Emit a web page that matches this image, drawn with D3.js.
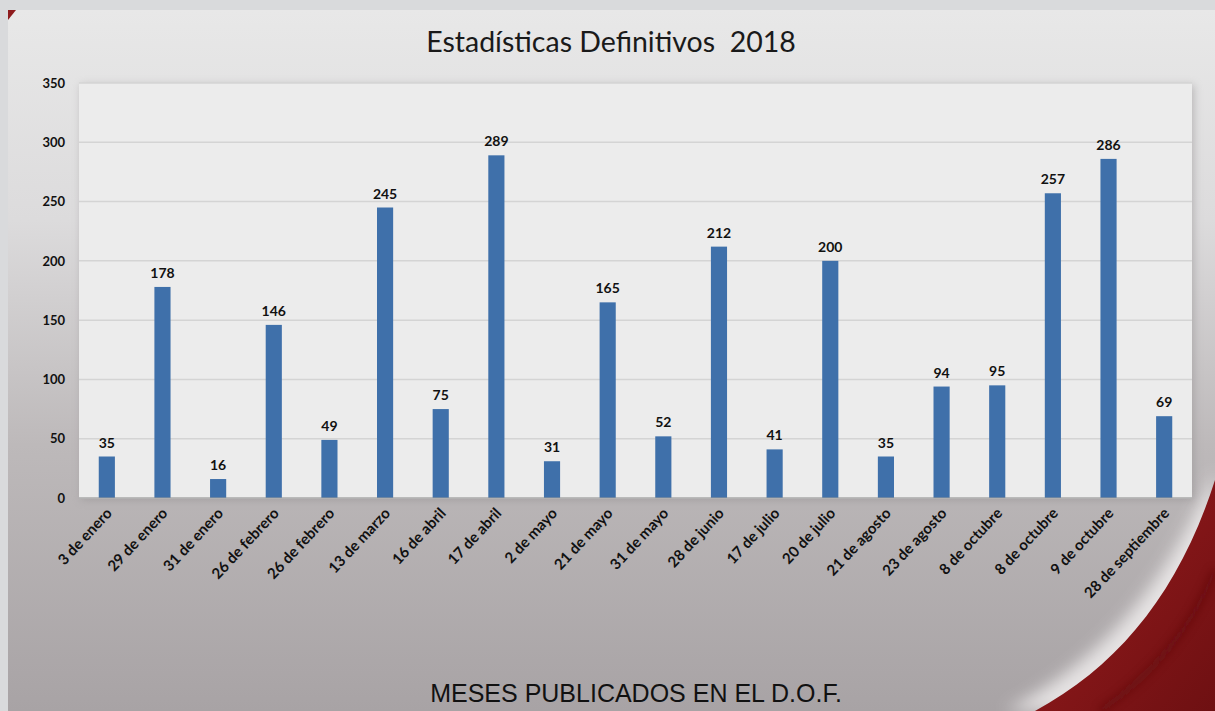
<!DOCTYPE html>
<html>
<head>
<meta charset="utf-8">
<script src="https://cdn.jsdelivr.net/npm/d3@7"></script>
<style>
  body { margin: 0; background: #d9dadc; }
  svg { display: block; }
</style>
</head>
<body>
<script>
const fechas = ["3 de enero","29 de enero","31 de enero","26 de febrero","26 de febrero","13 de marzo","16 de abril","17 de abril","2 de mayo","21 de mayo","31 de mayo","28 de junio","17 de julio","20 de julio","21 de agosto","23 de agosto","8 de octubre","8 de octubre","9 de octubre","28 de septiembre"];
const valores = [35,178,16,146,49,245,75,289,31,165,52,212,41,200,35,94,95,257,286,69];
const yTicks = [0,50,100,150,200,250,300,350];

const width = 1215, height = 711;
const plot = {left: 79, right: 1192, top: 83, bottom: 498};

const svg = d3.select('body').append('svg')
  .attr('width', width)
  .attr('height', height);

const defs = svg.append('defs');
const bg = defs.append('linearGradient').attr('id','bg').attr('x1',0).attr('y1',0).attr('x2',0).attr('y2',1);
bg.append('stop').attr('offset','0%').attr('stop-color','#e8e8e8');
bg.append('stop').attr('offset','30%').attr('stop-color','#dcdbdc');
bg.append('stop').attr('offset','62%').attr('stop-color','#bdb9ba');
bg.append('stop').attr('offset','100%').attr('stop-color','#a8a3a5');

const red = defs.append('linearGradient').attr('id','red').attr('x1',0).attr('y1',0).attr('x2',1).attr('y2',1);
red.append('stop').attr('offset','0%').attr('stop-color','#9a1c1e');
red.append('stop').attr('offset','100%').attr('stop-color','#6e1012');

const blur = defs.append('filter').attr('id','blur');
blur.append('feGaussianBlur').attr('stdDeviation', 4);
const blur2 = defs.append('filter').attr('id','blur2')
  .attr('x','-20%').attr('y','-20%').attr('width','140%').attr('height','140%');
blur2.append('feGaussianBlur').attr('stdDeviation', 8);

// slide background
svg.append('rect')
  .attr('x', 8).attr('y', 10)
  .attr('width', width - 8).attr('height', height - 10)
  .attr('fill', 'url(#bg)');

// small red corner top-left
svg.append('path')
  .attr('d', 'M8,10 L16,10 L8,20 Z')
  .attr('fill', '#8e1b1d');

// red swoosh bottom right
svg.append('path')
  .attr('d', 'M1005,711 C1095,665 1165,590 1215,470 L1215,711 Z')
  .attr('fill', '#f4f2f2')
  .attr('opacity', 0.8)
  .attr('filter', 'url(#blur2)');
svg.append('path')
  .attr('d', 'M1035,711 C1120,665 1180,590 1215,480 L1215,711 Z')
  .attr('fill', 'url(#red)');
svg.append('path')
  .attr('d', 'M1100,711 C1160,670 1195,620 1215,570')
  .attr('fill', 'none')
  .attr('stroke', '#5a0c0e')
  .attr('stroke-width', 6)
  .attr('opacity', 0.6)
  .attr('filter', 'url(#blur)');

// plot area with shadow
svg.append('rect')
  .attr('x', plot.left + 2).attr('y', plot.top + 2)
  .attr('width', plot.right - plot.left).attr('height', plot.bottom - plot.top)
  .attr('fill', '#8e8a8c').attr('opacity', 0.5)
  .attr('filter', 'url(#blur)');
svg.append('rect')
  .attr('x', plot.left).attr('y', plot.top)
  .attr('width', plot.right - plot.left).attr('height', plot.bottom - plot.top)
  .attr('fill', '#ececec');

const x = d3.scaleBand()
  .domain(d3.range(fechas.length))
  .range([plot.left, plot.right])
  .paddingInner(0.71)
  .paddingOuter(0.355);

const y = d3.scaleLinear()
  .domain([0, 350])
  .range([plot.bottom, plot.top]);

// gridlines
svg.append('g')
  .selectAll('line')
  .data(yTicks)
  .join('line')
  .attr('x1', plot.left).attr('x2', plot.right)
  .attr('y1', d => y(d)).attr('y2', d => y(d))
  .attr('stroke', '#d4d4d4')
  .attr('stroke-width', 1.5);

// y axis
const yAxis = svg.append('g')
  .attr('transform', `translate(${plot.left},0)`)
  .call(d3.axisLeft(y).tickValues(yTicks).tickSize(0).tickPadding(14));
yAxis.select('.domain').remove();
yAxis.selectAll('text')
  .attr('font-family', 'Lato, "Open Sans", sans-serif')
  .attr('font-weight', 'bold')
  .attr('font-size', 13)
  .attr('fill', '#111');

// bars
svg.append('g')
  .selectAll('rect')
  .data(valores)
  .join('rect')
  .attr('x', (d, i) => x(i))
  .attr('y', d => y(d))
  .attr('width', x.bandwidth())
  .attr('height', d => y(0) - y(d))
  .attr('fill', '#3f70aa');

// value labels
svg.append('g')
  .selectAll('text')
  .data(valores)
  .join('text')
  .attr('x', (d, i) => x(i) + x.bandwidth() / 2)
  .attr('y', d => y(d) - 9)
  .attr('text-anchor', 'middle')
  .attr('font-family', 'Lato, "Open Sans", sans-serif')
  .attr('font-weight', 'bold')
  .attr('font-size', 14)
  .attr('fill', '#111')
  .text(d => d);

// x axis line
svg.append('line')
  .attr('x1', plot.left).attr('x2', plot.right)
  .attr('y1', plot.bottom).attr('y2', plot.bottom)
  .attr('stroke', '#9a9a9a');

// category labels
svg.append('g')
  .selectAll('text')
  .data(fechas)
  .join('text')
  .attr('transform', (d, i) => `translate(${x(i) + x.bandwidth() / 2 + 6},${plot.bottom + 16}) rotate(-47)`)
  .attr('text-anchor', 'end')
  .attr('font-family', 'Lato, "Open Sans", sans-serif')
  .attr('font-weight', 'bold')
  .attr('font-size', 15)
  .attr('fill', '#111')
  .text(d => d);

// title
svg.append('text')
  .attr('x', 611).attr('y', 52)
  .attr('text-anchor', 'middle')
  .attr('font-family', 'Lato, "Open Sans", sans-serif')
  .attr('font-size', 28.5)
  .attr('fill', '#1a1a1a')
  .attr('xml:space', 'preserve')
  .text('Estadísticas Definitivos  2018');

// x axis title
svg.append('text')
  .attr('x', 636).attr('y', 702)
  .attr('text-anchor', 'middle')
  .attr('font-family', '"Liberation Sans", Arial, sans-serif')
  .attr('font-size', 25)
  .attr('fill', '#111')
  .text('MESES PUBLICADOS EN EL D.O.F.');
</script>
</body>
</html>
